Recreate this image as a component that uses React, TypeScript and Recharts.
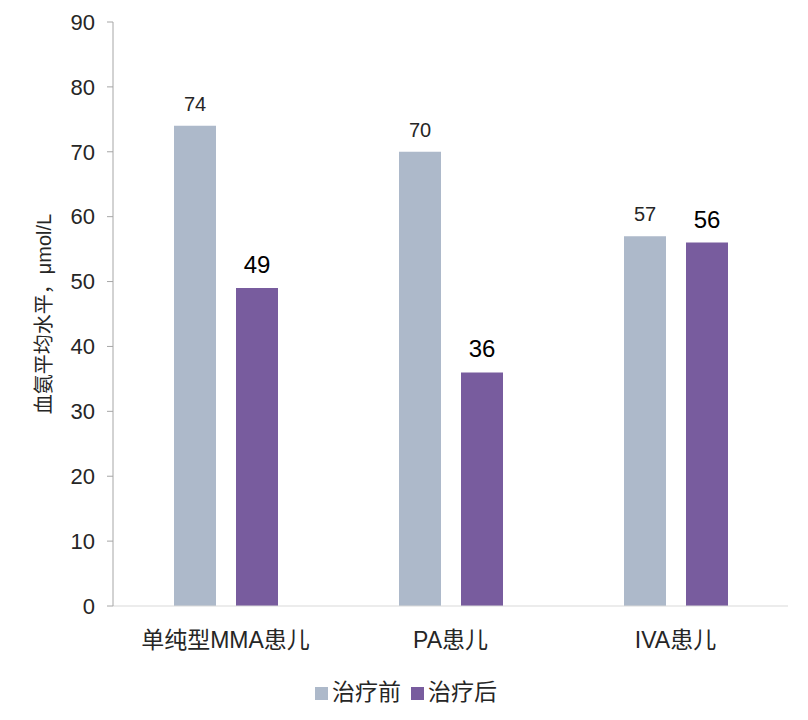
import React from 'react'
import { BarChart, Bar, XAxis, YAxis, Legend, LabelList } from 'recharts'

const categories = ['单纯型MMA患儿', 'PA患儿', 'IVA患儿']
const before = [74, 70, 57]
const after = [49, 36, 56]
const yTicks = [0, 10, 20, 30, 40, 50, 60, 70, 80, 90]

const data = categories.map((name, i) => ({ name, before: before[i], after: after[i] }))

const FONT = 'Arial, "Liberation Sans", "Noto Sans CJK SC", sans-serif'

const YLabel = (props: any) => {
  const { viewBox } = props
  const x = 36
  const y = viewBox.y + viewBox.height / 2
  return (
    <text x={x} y={y} transform={`rotate(-90, ${x}, ${y})`} textAnchor="middle" dominantBaseline="central"
      fontSize={20} fill="#262626" fontFamily={FONT}>
      血氨平均水平，μmol/L
    </text>
  )
}

export default function App() {
  return (
    <div style={{ width: 800, height: 712, fontFamily: FONT }}>
      <BarChart width={800} height={712} data={data} margin={{ top: 14, right: 20, left: 0, bottom: 13 }}
        barSize={42} barGap={20}>
        <XAxis dataKey="name" tickLine={false} tickSize={0} tickMargin={26} axisLine={{ stroke: '#d9d9d9' }}
          height={71} tick={{ fontSize: 23, fill: '#262626', fontFamily: FONT }} interval={0} />
        <YAxis width={105} domain={[0, 90]} ticks={yTicks} interval={0} tickSize={6} tickMargin={12}
          axisLine={{ stroke: '#a6a6a6' }} tickLine={{ stroke: '#a6a6a6' }}
          tick={{ fontSize: 22, fill: '#262626', fontFamily: FONT }} label={<YLabel />} />
        <Legend verticalAlign="bottom" align="center" iconType="square" iconSize={13}
          wrapperStyle={{ fontSize: 23, fontFamily: FONT, height: 30, lineHeight: '30px', left: 13 }}
          formatter={(v: string) => <span style={{ color: '#262626' }}>{v}</span>} />
        <Bar dataKey="before" name="治疗前" fill="#adb9ca" isAnimationActive={false}>
          <LabelList dataKey="before" position="top" offset={15} fontSize={20} fill="#262626" fontFamily={FONT} />
        </Bar>
        <Bar dataKey="after" name="治疗后" fill="#785c9e" isAnimationActive={false}>
          <LabelList dataKey="after" position="top" offset={15} fontSize={24} fill="#000" fontFamily={FONT} />
        </Bar>
      </BarChart>
    </div>
  )
}
